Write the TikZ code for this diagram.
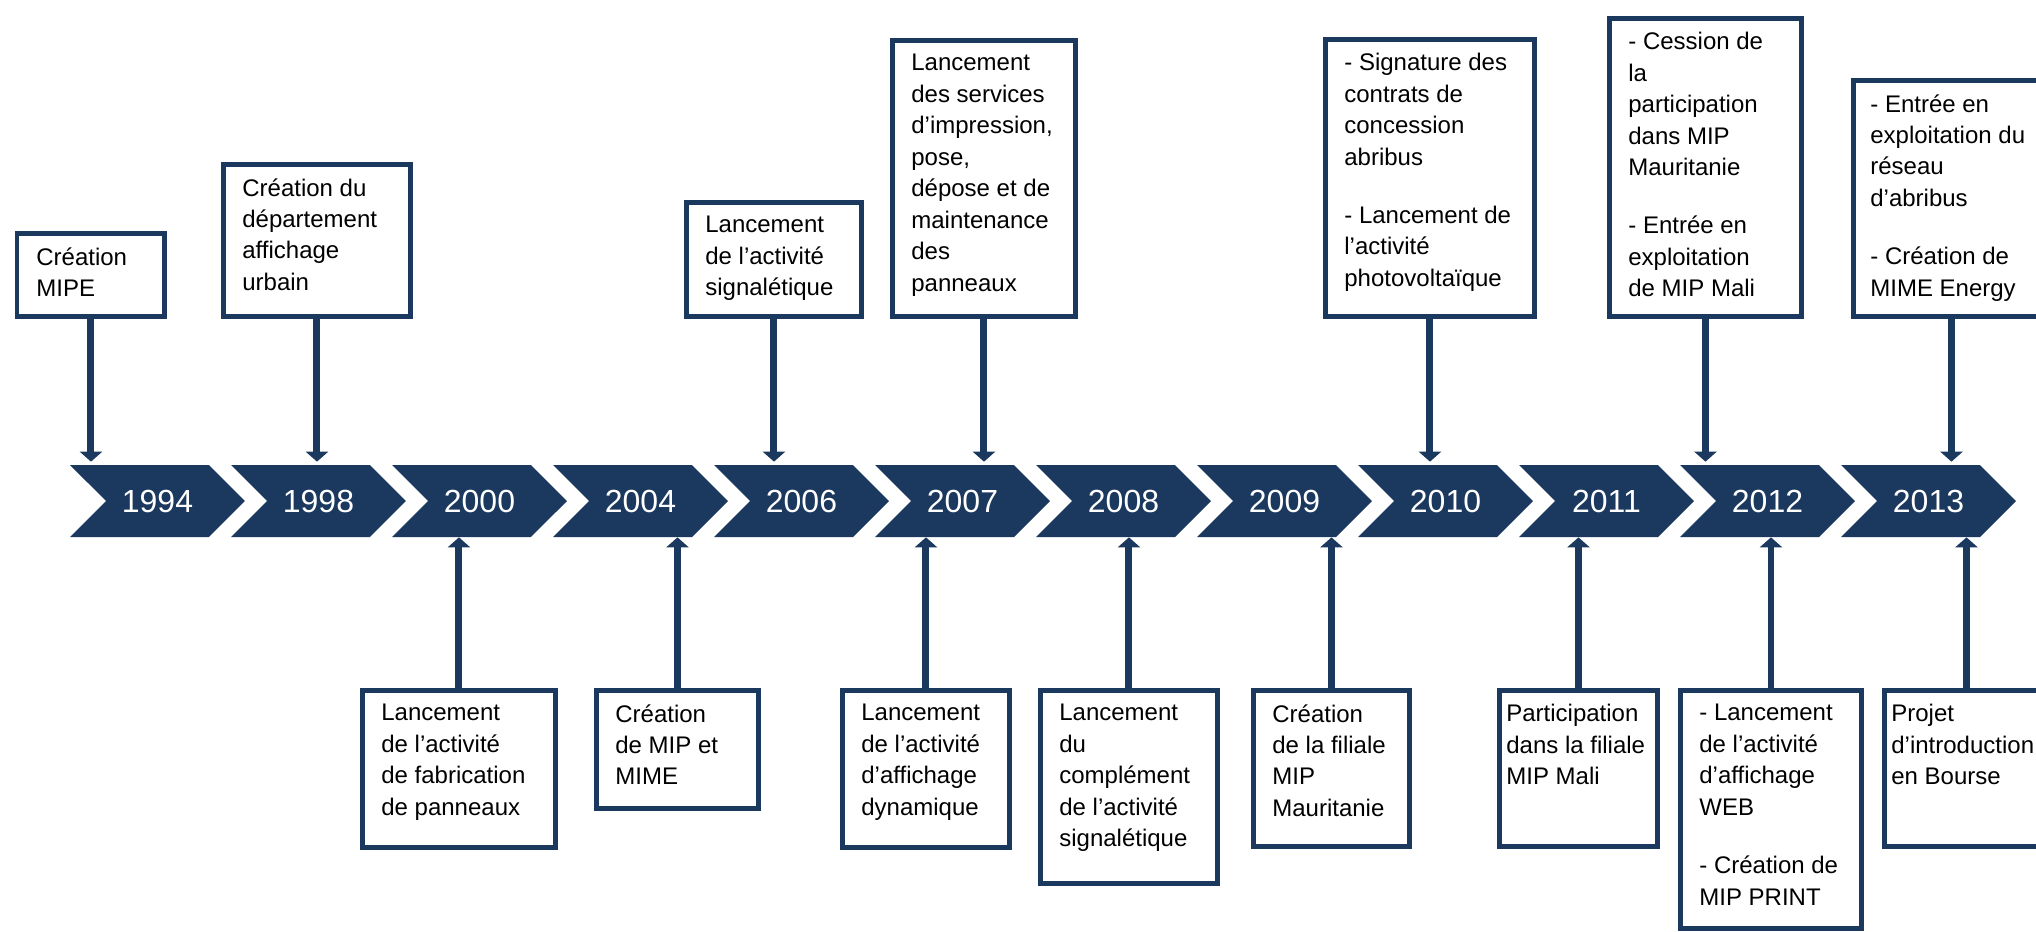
\documentclass[tikz,border=0pt]{standalone}
\usepackage{fontspec}
\setmainfont{Liberation Sans}
\usetikzlibrary{arrows.meta,shapes.symbols}
\definecolor{navy}{RGB}{27,56,94}

\begin{document}
\begin{tikzpicture}[x=0.02cm,y=-0.02cm]

  \tikzstyle{event}=[rectangle,draw=navy,fill=white,line width=0.1cm,
    anchor=north west,inner sep=0pt]

  \tikzstyle{txt}=[anchor=north west,inner sep=0pt,align=left,
    font=\fontsize{13.66pt}{17.9pt}\selectfont]

  \tikzstyle{yearchev}=[signal,signal from=west,signal to=east,
    fill=navy,text=white,minimum width=3.5cm,minimum height=1.44cm,
    inner sep=0pt,font=\fontsize{18.2pt}{22pt}\selectfont]

  \tikzstyle{stem}=[-{Triangle[width=0.44cm,length=0.2cm]},draw=navy,
    line width=0.14cm]

  \useasboundingbox (0,0) rectangle (2036,931);

  %% the years
  \foreach \yr [count=\i from 0] in
      {1994,1998,2000,2004,2006,2007,2008,2009,2010,2011,2012,2013}
    \node (y\yr) at ({157.5+161*\i},501) [yearchev] {\yr};

  %% above the line
  \node  (t1994) at (14.5,230.5)  [event,minimum width=2.96cm,minimum height=1.68cm] {};
  \node  (tl1994) at ([shift={(21.5,16.5)}]t1994.north west) [txt]
         {Création\\MIPE};

  \node  (t1998) at (220.5,161.5) [event,minimum width=3.76cm,minimum height=3.06cm] {};
  \node  (tl1998) at ([shift={(21.5,16.5)}]t1998.north west) [txt]
         {Création du\\département\\affichage\\urbain};

  \node  (t2006) at (683.5,199.5) [event,minimum width=3.52cm,minimum height=2.30cm] {};
  \node  (tl2006) at ([shift={(21.5,16.5)}]t2006.north west) [txt]
         {Lancement\\de l’activité\\signalétique};

  \node  (t2007) at (889.5,37.5)  [event,minimum width=3.68cm,minimum height=5.54cm] {};
  \node  (tl2007) at ([shift={(21.5,16.5)}]t2007.north west) [txt]
         {Lancement\\des services\\d’impression,\\pose,\\dépose et de\\maintenance\\des\\panneaux};

  \node  (t2010) at (1322.5,36.5) [event,minimum width=4.20cm,minimum height=5.56cm] {};
  \node  (tl2010) at ([shift={(21.5,16.5)}]t2010.north west) [txt]
         {- Signature des\\contrats de\\concession\\abribus\\[0.54cm]
          - Lancement de\\l’activité\\photovoltaïque};

  \node  (t2012) at (1606.5,15.5) [event,minimum width=3.86cm,minimum height=5.98cm] {};
  \node  (tl2012) at ([shift={(21.5,16.5)}]t2012.north west) [txt]
         {- Cession de\\la\\participation\\dans MIP\\Mauritanie\\[0.54cm]
          - Entrée en\\exploitation\\de MIP Mali};

  \node  (t2013) at (1850.5,77.5) [event,minimum width=3.94cm,minimum height=4.74cm] {};
  \node  (tl2013) at ([shift={(19.5,16.5)}]t2013.north west) [txt]
         {- Entrée en\\exploitation du\\réseau\\d’abribus\\[0.54cm]
          - Création de\\MIME Energy};

  %% below the line
  \node  (b2000) at (359.5,687.5)  [event,minimum width=3.88cm,minimum height=3.16cm] {};
  \node  (bl2000) at ([shift={(21.5,16.5)}]b2000.north west) [txt]
         {Lancement\\de l’activité\\de fabrication\\de panneaux};

  \node  (b2004) at (593.5,687.5)  [event,minimum width=3.26cm,minimum height=2.38cm] {};
  \node  (bl2004) at ([shift={(21.5,16.5)}]b2004.north west) [txt]
         {Création\\de MIP et\\MIME};

  \node  (b2007) at (839.5,687.5)  [event,minimum width=3.36cm,minimum height=3.16cm] {};
  \node  (bl2007) at ([shift={(21.5,16.5)}]b2007.north west) [txt]
         {Lancement\\de l’activité\\d’affichage\\dynamique};

  \node  (b2008) at (1037.5,687.5) [event,minimum width=3.56cm,minimum height=3.88cm] {};
  \node  (bl2008) at ([shift={(21.5,16.5)}]b2008.north west) [txt]
         {Lancement\\du\\complément\\de l’activité\\signalétique};

  \node  (b2009) at (1250.5,687.5) [event,minimum width=3.14cm,minimum height=3.14cm] {};
  \node  (bl2009) at ([shift={(21.5,16.5)}]b2009.north west) [txt]
         {Création\\de la filiale\\MIP\\Mauritanie};

  \node  (b2011) at (1496.5,687.5) [event,minimum width=3.18cm,minimum height=3.14cm] {};
  \node  (bl2011) at ([shift={(9.5,16.5)}]b2011.north west) [txt]
         {Participation\\dans la filiale\\MIP Mali};

  \node  (b2012) at (1677.5,687.5) [event,minimum width=3.64cm,minimum height=4.78cm] {};
  \node  (bl2012) at ([shift={(21.5,16.5)}]b2012.north west) [txt]
         {- Lancement\\de l’activité\\d’affichage\\WEB\\[0.54cm]
          - Création de\\MIP PRINT};

  \node  (b2013) at (1881.5,687.5) [event,minimum width=3.30cm,minimum height=3.14cm] {};
  \node  (bl2013) at ([shift={(9.5,16.5)}]b2013.north west) [txt]
         {Projet\\d’introduction\\en Bourse};

  %% stems
  \foreach \yr in {1994,1998,2006,2007,2010,2012,2013}
    \path (t\yr.south) edge [stem,shorten >=0.06cm] (t\yr.south |- y\yr.north);

  \foreach \yr in {2000,2004,2007,2008,2009,2011,2012,2013}
    \path (b\yr.north) edge [stem] (b\yr.north |- y\yr.south);

\end{tikzpicture}
\end{document}
